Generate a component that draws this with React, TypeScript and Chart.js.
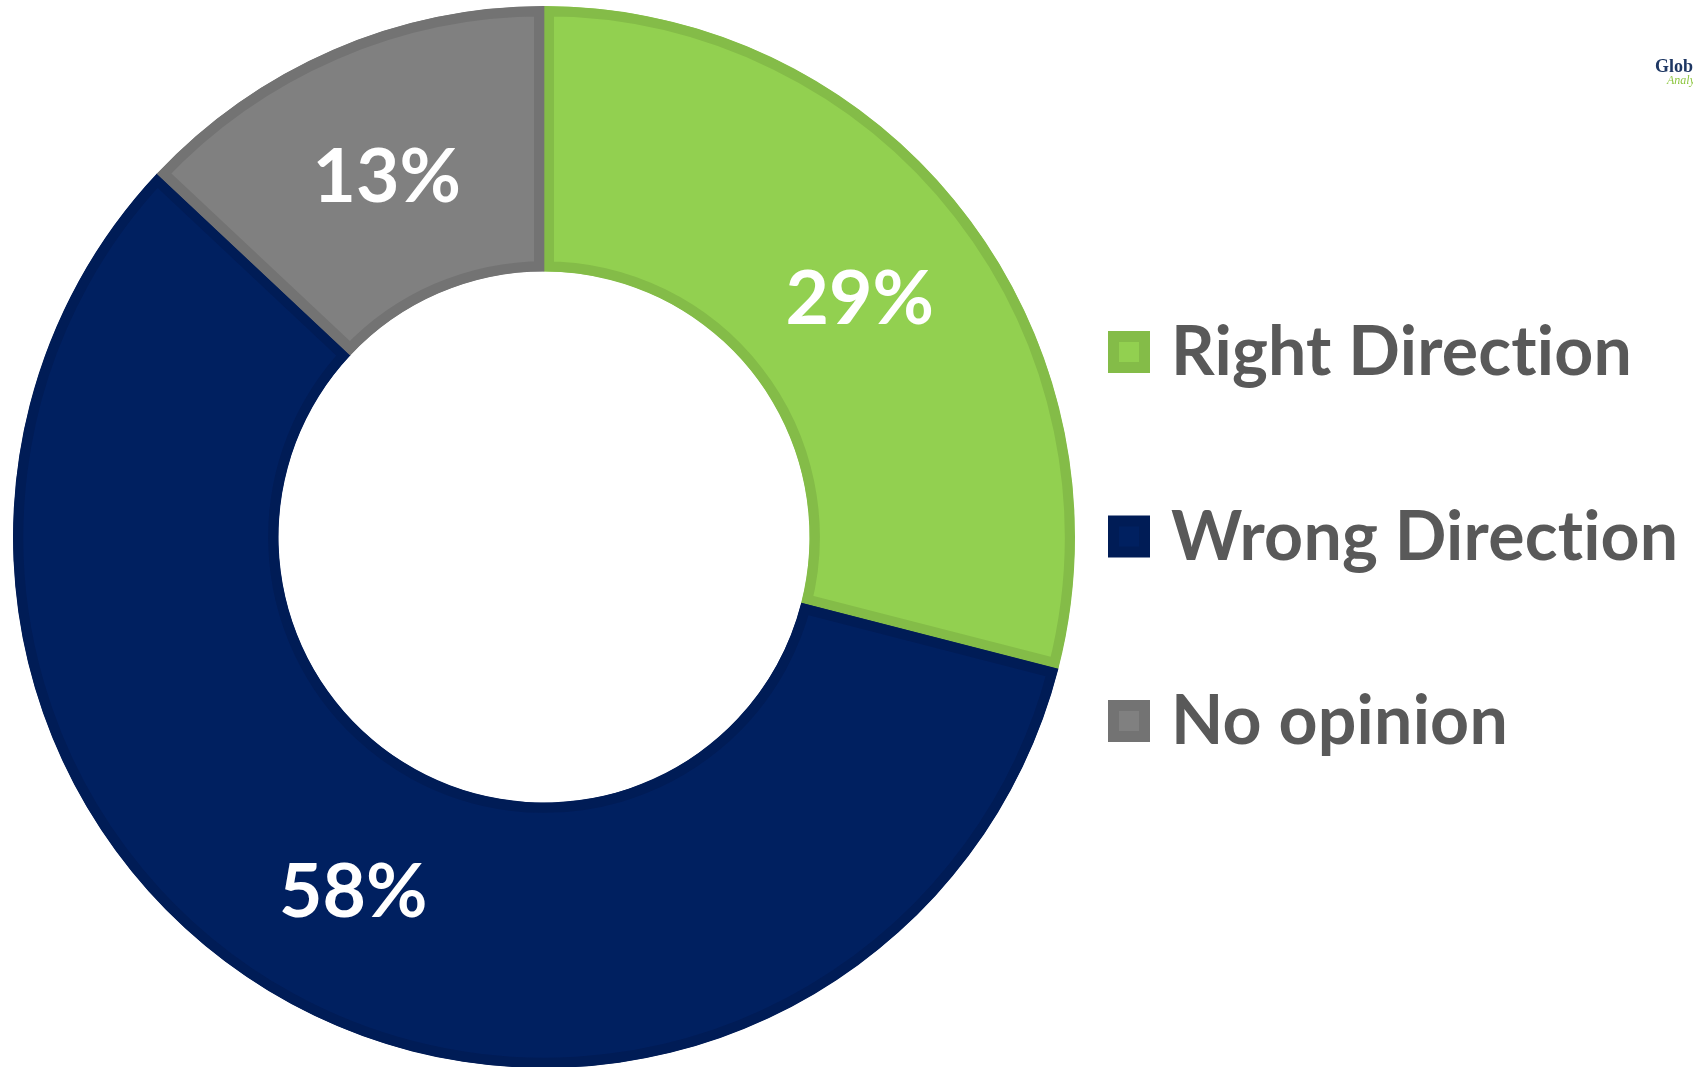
import React, { useEffect, useRef } from "react";
import { Chart, registerables } from "chart.js";

Chart.register(...registerables);

// ---- data ----
const categories = ["Right Direction", "Wrong Direction", "No opinion"];
const values = [29, 58, 13];
const valueLabels = ["29%", "58%", "13%"];
const fillColors = ["#92D050", "#002060", "#808080"];
const borderColors = ["#84BC48", "#001C56", "#737373"];
const logoTitle = "Global";
const logoSubtitle = "Analytics";

// ---- styles / layout ----
const W = 1693;
const H = 1067;
const CHART_LEFT = 13;
const CHART_TOP = 6;
const CHART_SIZE = 1062;
const CANVAS_H = CHART_TOP + CHART_SIZE;
const SLICE_BORDER = 10;
const LABEL_FONT = 75;
const LEGEND_X = 1108;
const LEGEND_TOP = 331;
const LEGEND_STEP = 184.5;
const LEGEND_BOX = 42;
const LEGEND_BOX_BORDER = 11;
const LEGEND_TEXT_X = 1171;
const LEGEND_FONT = 68;

const sliceLabelPlugin = {
  id: "sliceLabels",
  afterDatasetsDraw(chart: any) {
    const { ctx } = chart;
    const meta = chart.getDatasetMeta(0);
    ctx.save();
    ctx.font = `bold ${LABEL_FONT}px Lato`;
    ctx.fillStyle = "#FFFFFF";
    ctx.textAlign = "center";
    ctx.textBaseline = "alphabetic";
    meta.data.forEach((arc: any, i: number) => {
      const p = arc.tooltipPosition(false);
      ctx.fillText(valueLabels[i], p.x + 1, p.y + 4 + LABEL_FONT * 0.358);
    });
    ctx.restore();
  },
};

const sideLegendPlugin = {
  id: "sideLegend",
  afterDraw(chart: any) {
    const { ctx } = chart;
    const ds = chart.data.datasets[0];
    ctx.save();
    (chart.data.labels as string[]).forEach((label, i) => {
      const top = LEGEND_TOP + i * LEGEND_STEP;
      ctx.fillStyle = ds.borderColor[i];
      ctx.fillRect(LEGEND_X, top, LEGEND_BOX, LEGEND_BOX);
      ctx.fillStyle = ds.backgroundColor[i];
      ctx.fillRect(
        LEGEND_X + LEGEND_BOX_BORDER,
        top + LEGEND_BOX_BORDER,
        LEGEND_BOX - 2 * LEGEND_BOX_BORDER,
        LEGEND_BOX - 2 * LEGEND_BOX_BORDER
      );
      ctx.fillStyle = "#595959";
      ctx.font = `bold ${LEGEND_FONT}px Lato`;
      (ctx as any).letterSpacing = "0.2px";
      ctx.textAlign = "left";
      ctx.textBaseline = "alphabetic";
      ctx.fillText(label, LEGEND_TEXT_X, top + LEGEND_BOX + 2);
    });
    (ctx as any).letterSpacing = "0px";
    // logo (cut off at the right edge, as in the original)
    ctx.textAlign = "left";
    ctx.fillStyle = "#1F3864";
    ctx.font = "bold 18px 'Liberation Serif'";
    ctx.fillText(logoTitle, 1655, 72);
    ctx.fillStyle = "#8DC63F";
    ctx.font = "italic 12px 'Liberation Serif'";
    ctx.fillText(logoSubtitle, 1667, 84);
    ctx.restore();
  },
};

export default function App() {
  const canvasRef = useRef<HTMLCanvasElement | null>(null);

  useEffect(() => {
    if (!canvasRef.current) return;
    const chart = new Chart(canvasRef.current, {
      type: "doughnut",
      data: {
        labels: categories,
        datasets: [
          {
            data: values,
            backgroundColor: fillColors,
            borderColor: borderColors,
            borderWidth: SLICE_BORDER,
            borderAlign: "inner",
            hoverOffset: 0,
          } as any,
        ],
      },
      options: {
        responsive: false,
        maintainAspectRatio: false,
        animation: false,
        cutout: "50%",
        rotation: 0,
        layout: {
          padding: {
            left: CHART_LEFT,
            right: W - CHART_LEFT - CHART_SIZE,
            top: CHART_TOP,
            bottom: 0,
          },
        },
        plugins: {
          legend: { display: false },
          tooltip: { enabled: false },
        },
      },
      plugins: [sliceLabelPlugin, sideLegendPlugin],
    });
    return () => chart.destroy();
  }, []);

  return (
    <div
      style={{
        position: "fixed",
        left: 0,
        top: 0,
        width: W,
        height: H,
        overflow: "hidden",
        background: "#FFFFFF",
      }}
    >
      <canvas
        ref={canvasRef}
        width={W}
        height={CANVAS_H}
        style={{ position: "absolute", left: 0, top: 0, width: W, height: CANVAS_H }}
      />
    </div>
  );
}
